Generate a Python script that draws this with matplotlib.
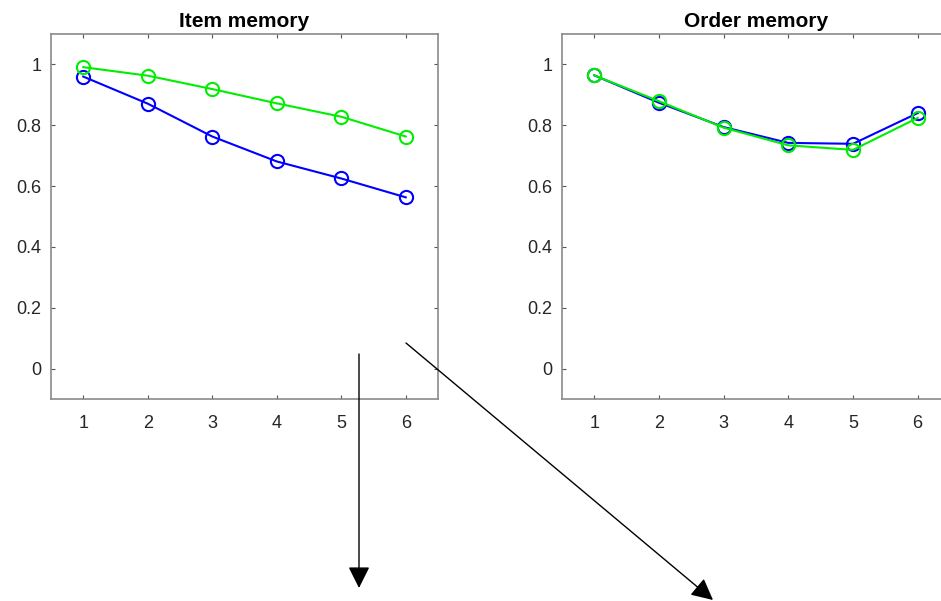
import matplotlib
matplotlib.use("Agg")
import matplotlib.pyplot as plt

plt.rcParams['font.family'] = ['Liberation Sans', 'DejaVu Sans']

positions = [1, 2, 3, 4, 5, 6]

item_blue = [0.960, 0.871, 0.763, 0.681, 0.625, 0.563]
item_green = [0.991, 0.963, 0.919, 0.872, 0.828, 0.763]

order_blue = [0.964, 0.874, 0.794, 0.742, 0.739, 0.840]
order_green = [0.964, 0.879, 0.792, 0.734, 0.719, 0.824]

titles = ["Item memory", "Order memory"]
yticks = [0, 0.2, 0.4, 0.6, 0.8, 1]
ytick_labels = ["0", "0.2", "0.4", "0.6", "0.8", "1"]

W, H = 941, 601
fig = plt.figure(figsize=(W / 100, H / 100), dpi=100)

ax1 = fig.add_axes([51 / W, 1 - 399 / H, 387 / W, 365 / H])
ax2 = fig.add_axes([562 / W, 1 - 399 / H, 388 / W, 365 / H])

edge = '#8a8a8a'
for ax, title, blue, green in [(ax1, titles[0], item_blue, item_green),
                               (ax2, titles[1], order_blue, order_green)]:
    ax.plot(positions, blue, color='#0000ff', lw=1.5, marker='o',
            ms=9.5, mfc='none', mew=1.5)
    ax.plot(positions, green, color='#00ee00', lw=1.5, marker='o',
            ms=9.5, mfc='none', mew=1.5)
    ax.set_xlim(0.5, 6.5)
    ax.set_ylim(-0.1, 1.1)
    ax.set_xticks(positions)
    ax.set_yticks(yticks)
    ax.set_yticklabels(ytick_labels)
    ax.tick_params(direction='in', length=3, width=0.8, color='#555555',
                   top=True, right=True, labelsize=13, labelcolor='#262626')
    ax.tick_params(axis='x', pad=11.5)
    ax.tick_params(axis='y', pad=7)
    for s in ax.spines.values():
        s.set_color(edge)
        s.set_linewidth(1.2)
    ax.set_title(title, fontsize=15, fontweight='bold', pad=5)

# pointer arrows below the panels
arrow_lines = [((359, 354), (359, 588)), ((406, 343), (713, 600))]
for (x0, y0), (x1, y1) in arrow_lines:
    fig.add_artist(matplotlib.patches.FancyArrowPatch(
        (x0 / W, 1 - y0 / H), (x1 / W, 1 - y1 / H),
        transform=fig.transFigure, arrowstyle='-|>,head_length=0.6,head_width=0.3',
        mutation_scale=22, color='black', lw=1.0, shrinkA=0, shrinkB=0))

fig.savefig("out.png", dpi=100)
